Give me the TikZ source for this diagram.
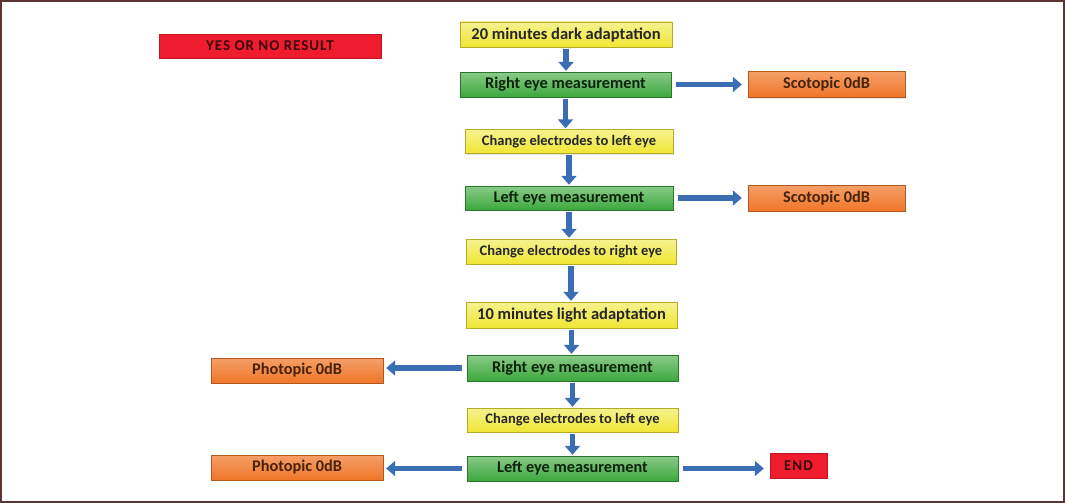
\documentclass[tikz,border=0pt]{standalone}
\usepackage{fontspec}
\setmainfont{Carlito}
\usetikzlibrary{arrows.meta,shadows}
\definecolor{yel}{HTML}{F0E634}
\definecolor{grn}{HTML}{3CA83C}
\definecolor{org}{HTML}{F07628}
\definecolor{redb}{HTML}{EE1C2E}
\definecolor{arrb}{HTML}{3B6DB5}
\definecolor{frame}{HTML}{5C3434}
\newfontfamily\capfont[LetterSpace=6.5]{Carlito}
\newcommand{\bigtxt}{\bfseries\fontsize{16.5}{18}\selectfont}
\newcommand{\midtxt}{\bfseries\fontsize{16.3}{18}\selectfont}
\newcommand{\smalltxt}{\bfseries\fontsize{14.5}{16}\selectfont}
\newcommand{\captxt}{\capfont\bfseries\fontsize{15}{17}\selectfont}
\begin{document}
\begin{tikzpicture}[x=1pt,y=-1pt,
  box/.style={inner sep=0pt, line width=0.4pt,
    drop shadow={opacity=0.22, shadow xshift=1.2pt, shadow yshift=-1.2pt}},
  yelbox/.style={box, draw=yel!75!black, top color=yel!55!white, bottom color=yel, text=black!85},
  grnbox/.style={box, draw=grn!70!black, top color=grn!60!white, bottom color=grn, text=black!80!grn},
  orgbox/.style={box, draw=org!75!black, top color=org!70!white, bottom color=org, text=black!70!org},
  redbox/.style={box, draw=redb!80!black, fill=redb, text=black!75!redb},
  flow/.style={draw=arrb, line width=5.5pt, -{Triangle[length=9pt,width=15pt]}}
]
\useasboundingbox (0,0) rectangle (1065,503);
\draw[frame, line width=2.2pt] (1.1,1.1) rectangle (1063.9,501.9);

\node[redbox, minimum width=222pt, minimum height=24pt, font=\captxt] (yn) at (270,46) {YES OR NO RESULT};

\node[yelbox, minimum width=212pt, minimum height=25pt, font=\bigtxt] (dark) at (566,34.5) {20 minutes dark adaptation};
\node[grnbox, minimum width=211pt, minimum height=25pt, font=\midtxt] (re1) at (565.5,84.5) {Right eye measurement};
\node[orgbox, minimum width=157pt, minimum height=26pt, font=\midtxt] (sc1) at (826.5,84.5) {Scotopic 0dB};
\node[yelbox, minimum width=208pt, minimum height=24pt, font=\smalltxt] (ce1) at (569,141.5) {Change electrodes to left eye};
\node[grnbox, minimum width=208pt, minimum height=24pt, font=\midtxt] (le1) at (569,198) {Left eye measurement};
\node[orgbox, minimum width=157pt, minimum height=26pt, font=\midtxt] (sc2) at (826.5,198) {Scotopic 0dB};
\node[yelbox, minimum width=210pt, minimum height=25pt, font=\smalltxt] (ce2) at (571,251.5) {Change electrodes to right eye};
\node[yelbox, minimum width=211pt, minimum height=26pt, font=\bigtxt] (la) at (571.5,315) {10 minutes light adaptation};
\node[grnbox, minimum width=211pt, minimum height=26pt, font=\midtxt] (re2) at (572.5,368) {Right eye measurement};
\node[orgbox, minimum width=172pt, minimum height=25pt, font=\midtxt] (ph1) at (297,370.5) {Photopic 0dB};
\node[yelbox, minimum width=211pt, minimum height=24pt, font=\smalltxt] (ce3) at (572.5,420) {Change electrodes to left eye};
\node[grnbox, minimum width=211pt, minimum height=25pt, font=\midtxt] (le2) at (572.5,468.5) {Left eye measurement};
\node[orgbox, minimum width=172pt, minimum height=25pt, font=\midtxt] (ph2) at (297,467.5) {Photopic 0dB};
\node[redbox, minimum width=57pt, minimum height=25pt, font=\captxt] (end) at (798.5,465.5) {END};

\draw[flow, shorten <=1.5pt, shorten >=1pt] (dark.south) -- (dark.south |- re1.north);
\draw[flow, shorten <=1.5pt, shorten >=1pt] (re1.south) -- (re1.south |- ce1.north);
\draw[flow, shorten <=1.5pt, shorten >=1pt] (ce1.south) -- (ce1.south |- le1.north);
\draw[flow, shorten <=1.5pt, shorten >=1pt] (le1.south) -- (le1.south |- ce2.north);
\draw[flow, shorten <=1.5pt, shorten >=1pt] (ce2.south) -- (ce2.south |- la.north);
\draw[flow, shorten <=1.5pt, shorten >=1pt] (la.south) -- (la.south |- re2.north);
\draw[flow, shorten <=1.5pt, shorten >=1pt] (re2.south) -- (re2.south |- ce3.north);
\draw[flow, shorten <=1.5pt, shorten >=1pt] (ce3.south) -- (ce3.south |- le2.north);

\draw[flow, shorten <=5pt, shorten >=6pt] (re1.east) -- (re1.east -| sc1.west);
\draw[flow, shorten <=5pt, shorten >=6pt] (le1.east) -- (le1.east -| sc2.west);
\draw[flow, shorten <=5pt, shorten >=3pt] (re2.west) -- (re2.west -| ph1.east);
\draw[flow, shorten <=5pt, shorten >=3pt] (le2.west) -- (le2.west -| ph2.east);
\draw[flow, shorten <=5pt, shorten >=6pt] (le2.east) -- (le2.east -| end.west);
\end{tikzpicture}
\end{document}
